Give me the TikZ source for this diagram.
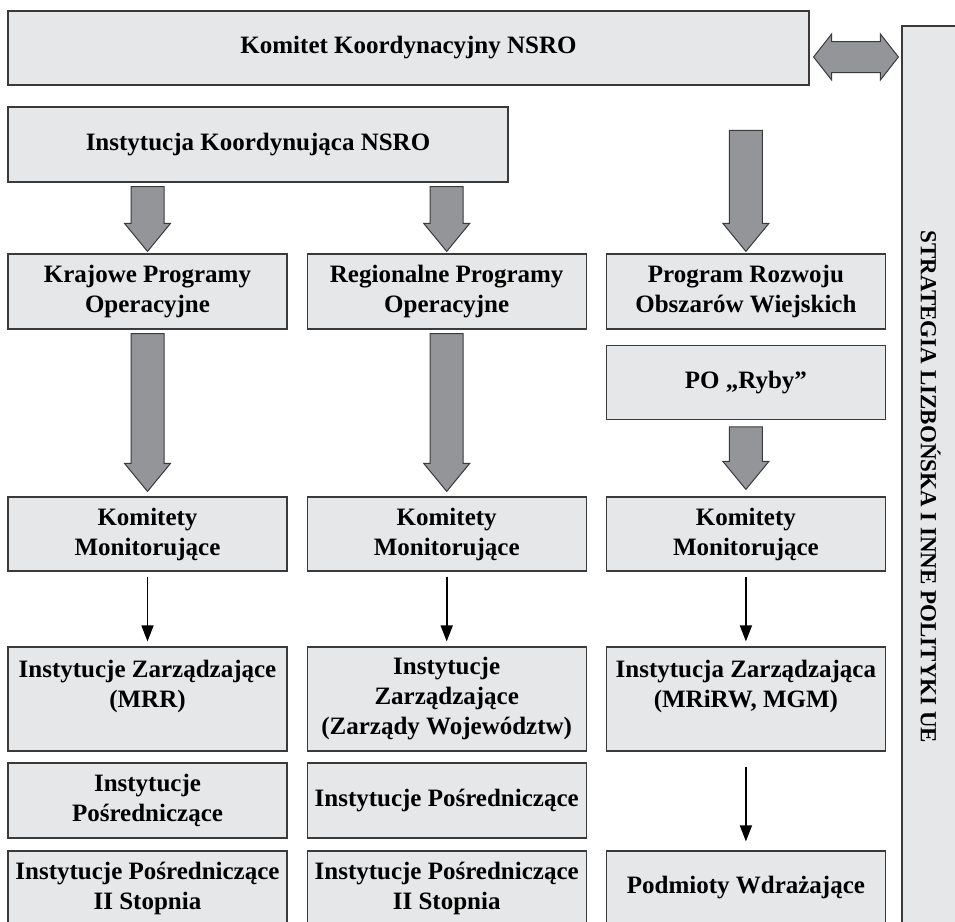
\documentclass[tikz,border=0pt]{standalone}
\usepackage{fontspec}
\setmainfont{Liberation Serif}
\usetikzlibrary{positioning, calc, arrows.meta}

\definecolor{boxfill}{HTML}{E6E7E8}
\definecolor{boxline}{HTML}{3A3A3A}
\definecolor{arrowfill}{HTML}{939598}

% wide grey arrow pointing down, from #1 to #2
\newcommand{\fatarrow}[2]{%
    \draw[fatarrow] let \p1 = #1, \p2 = #2 in
        (\x1-16.5pt,\y1) -- (\x1+16.5pt,\y1) -- (\x1+16.5pt,\y2+28pt)
        -- (\x1+23pt,\y2+28pt) -- (\x1,\y2) -- (\x1-23pt,\y2+28pt)
        -- (\x1-16.5pt,\y2+28pt) -- cycle;
}

\begin{document}
\begin{tikzpicture}[
            x = 1pt, y = -1pt, % pixel grid of the scan
            > = {Triangle[length=16pt, width=12pt]}, % arrow head style
            fatarrow/.style = {draw = boxline, fill = arrowfill, line width = 1pt, line join = miter},
            thinarrow/.style = {draw = black, line width = 1.6pt},
            node distance = 19pt % distance between columns
        ]

        \tikzstyle{box}=[
        draw = boxline,
        fill = boxfill,
        line width = 1.2pt,
        align = center,
        inner sep = 0pt,
        minimum width = 279pt,
        minimum height = 75pt,
        font = \fontsize{25}{30}\selectfont\bfseries
        ]

        \useasboundingbox (0,0) rectangle (955,921);

        % top
        \node[box, minimum width = 801pt, minimum height = 74pt] (kk) at (408.5,48) {Komitet Koordynacyjny NSRO};
        \node[box, minimum width = 500pt] (ik) at (258,144.5) {Instytucja Koordynująca NSRO};
        \node[box, rotate = -90, minimum width = 922pt, minimum height = 57pt,
              font = \fontsize{23}{28}\selectfont\bfseries] (ue) at (930.5,487)
              {STRATEGIA LIZBOŃSKA I INNE POLITYKI UE};

        % programmes
        \node[box] (kpo) at (147.5,291.5) {Krajowe Programy\\Operacyjne};
        \node[box, right = of kpo] (rpo) {Regionalne Programy\\Operacyjne};
        \node[box, right = of rpo] (prow) {Program Rozwoju\\Obszarów Wiejskich};
        \node[box, below = 15pt of prow, minimum height = 74pt] (ryby) {PO „Ryby”};

        % committees
        \node[box, minimum height = 74pt] (km1) at (147.5,534) {Komitety\\Monitorujące};
        \node[box, minimum height = 74pt, right = of km1] (km2) {Komitety\\Monitorujące};
        \node[box, minimum height = 74pt, right = of km2] (km3) {Komitety\\Monitorujące};

        % managing bodies
        \node[box, minimum height = 104pt] (iz1) at (147.5,699) {Instytucje Zarządzające\\(MRR)\\~};
        \node[box, minimum height = 104pt, right = of iz1] (iz2) {Instytucje\\Zarządzające\\(Zarządy Województw)};
        \node[box, minimum height = 104pt, right = of iz2] (iz3) {Instytucja Zarządzająca\\(MRiRW, MGM)\\~};

        % intermediate bodies
        \node[box] (ip1) at (147.5,800.5) {Instytucje\\Pośredniczące};
        \node[box, right = of ip1] (ip2) {Instytucje Pośredniczące};
        \node[box, minimum height = 74pt] (ips1) at (147.5,888) {Instytucje Pośredniczące\\II Stopnia};
        \node[box, minimum height = 74pt, right = of ips1] (ips2) {Instytucje Pośredniczące\\II Stopnia};
        \node[box, minimum height = 74pt, right = of ips2] (pw) {Podmioty Wdrażające};

        \coordinate (rtop) at ($(ik.north -| prow.north)+(0,24)$);

        % wide arrows
        \fatarrow{($(ik.south -| kpo.north)+(0,4)$)}{($(kpo.north)+(0,-2)$)}
        \fatarrow{($(ik.south -| rpo.north)+(0,4)$)}{($(rpo.north)+(0,-2)$)}
        \fatarrow{(rtop)}{($(prow.north)+(0,-2)$)}
        \fatarrow{($(kpo.south)+(0,4)$)}{($(km1.north)+(0,-5)$)}
        \fatarrow{($(rpo.south)+(0,4)$)}{($(km2.north)+(0,-5)$)}
        \fatarrow{($(ryby.south)+(0,7)$)}{($(km3.north)+(0,-7)$)}

        % double arrow to the side bar
        \draw[fatarrow] let \p1 = ($(kk.east)+(4,9)$), \p2 = ($(kk.east -| ue.south)+(-3,9)$) in
            (\x1,\y1) -- (\x1+18pt,\y1+23pt) -- (\x1+18pt,\y1+15.5pt)
            -- (\x2-18pt,\y1+15.5pt) -- (\x2-18pt,\y1+23pt) -- (\x2,\y1)
            -- (\x2-18pt,\y1-23pt) -- (\x2-18pt,\y1-15.5pt)
            -- (\x1+18pt,\y1-15.5pt) -- (\x1+18pt,\y1-23pt) -- cycle;

        % thin arrows
        \path[->, thinarrow, shorten <= 5pt, shorten >= 5pt] (km1) edge (iz1);
        \path[->, thinarrow, shorten <= 5pt, shorten >= 5pt] (km2) edge (iz2);
        \path[->, thinarrow, shorten <= 5pt, shorten >= 5pt] (km3) edge (iz3);
        \path[->, thinarrow, shorten <= 15pt, shorten >= 9pt] (iz3) edge (pw);
    \end{tikzpicture}
\end{document}
